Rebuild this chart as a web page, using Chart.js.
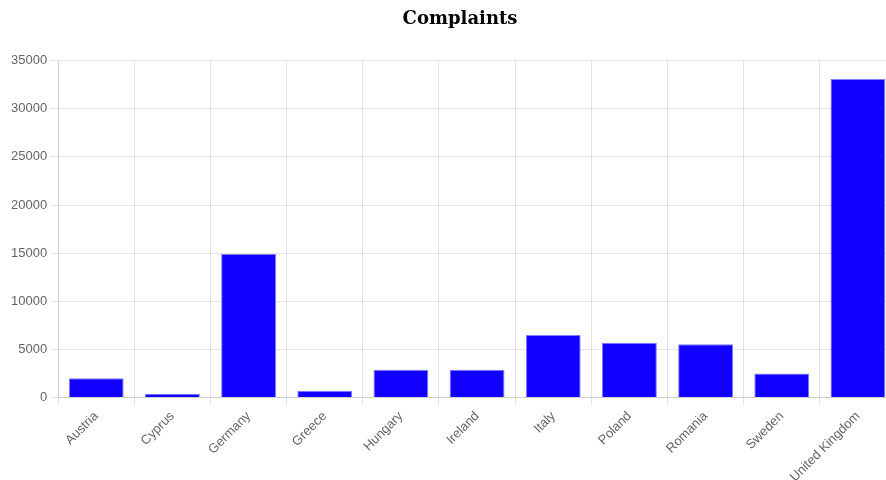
<!DOCTYPE html>
<html>
<head>
<meta charset="utf-8">
<title>Complaints</title>
<script src="https://cdn.jsdelivr.net/npm/chart.js@4"></script>
<style>
    html, body { margin: 0; height: 480px; overflow: hidden; background: #fff; }
    #wrap { position: relative; width: 920px; height: 488px; }
</style>
</head>
<body>
<div id="wrap"><canvas id="complaintsChart"></canvas></div>
<script>
const countries = ['Austria', 'Cyprus', 'Germany', 'Greece', 'Hungary', 'Ireland',
    'Italy', 'Poland', 'Romania', 'Sweden', 'United Kingdom'];
const complaints = [2000, 400, 14900, 700, 2900, 2900, 6500, 5700, 5550, 2500, 33100];
const yTicks = [0, 5000, 10000, 15000, 20000, 25000, 30000, 35000];

document.addEventListener('DOMContentLoaded', function() {
    const ctx = document.getElementById('complaintsChart');
    new Chart(ctx, {
        type: 'bar',
        data: {
            labels: countries,
            datasets: [{
                label: 'Complaints',
                data: complaints,
                backgroundColor: 'rgb(17, 0, 255)',
                borderColor: 'rgba(110, 110, 255, 0.9)',
                borderWidth: 1
            }]
        },
        options: {
            responsive: true,
            maintainAspectRatio: false,
            animation: false,
            layout: { padding: { left: 8, right: 8 } },
            plugins: {
                legend: { display: false },
                tooltip: { enabled: false },
                title: {
                    display: true,
                    text: 'Complaints',
                    color: '#000',
                    font: { family: 'DejaVu Serif', size: 18, weight: 'bold' },
                    padding: { top: 9, bottom: 30 }
                }
            },
            scales: {
                x: {
                    ticks: { color: '#666', maxRotation: 45, minRotation: 45, font: { size: 13 } }
                },
                y: {
                    min: 0,
                    max: 35000,
                    afterBuildTicks: function(scale) {
                        scale.ticks = yTicks.map(v => ({ value: v }));
                    },
                    ticks: {
                        color: '#666',
                        font: { size: 13 },
                        callback: function(value) { return String(value); }
                    }
                },
                // empty spacer on the right, keeps the title centred on the canvas
                spacer: {
                    type: 'linear',
                    position: 'right',
                    display: true,
                    grid: { display: false },
                    border: { display: false },
                    ticks: { display: false },
                    afterFit: function(scale) { scale.width = 16; }
                }
            }
        }
    });
});
</script>
</body>
</html>
